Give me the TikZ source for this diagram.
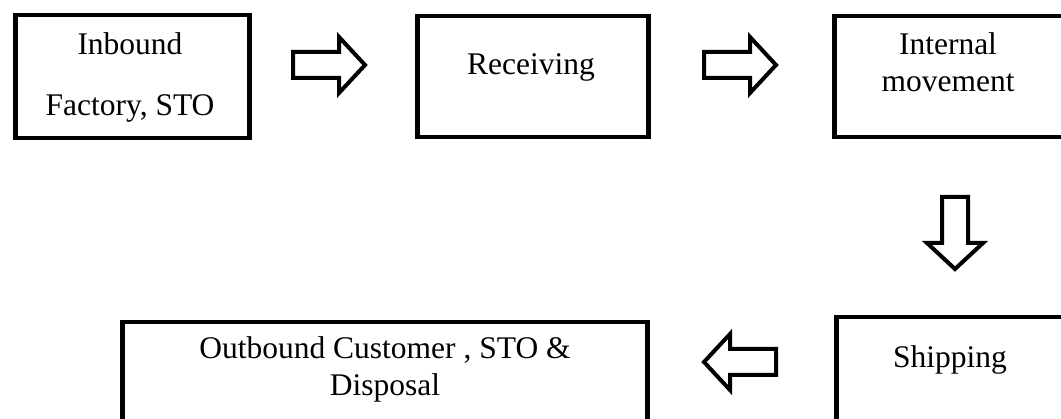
\documentclass[tikz,border=0pt]{standalone}
\usepackage{fontspec}
\setmainfont{Liberation Serif}
\begin{document}
\begin{tikzpicture}[x=1pt,y=-1pt,
  box/.style={draw=black, line width=4.5pt, rectangle, anchor=north west, inner sep=0pt},
  lbl/.style={anchor=base, inner sep=0pt, font=\fontsize{31.5}{37}\selectfont},
  blockarrow/.style={draw=black, line width=4pt, line join=miter, fill=white},
  rarrow/.pic={\draw[blockarrow] (0,-13) -- (46,-13) -- (46,-28) -- (72,0) -- (46,28) -- (46,13) -- (0,13) -- cycle;}
]
\useasboundingbox (0,0) rectangle (1061,419);
\clip (0,0) rectangle (1061,419);
% boxes
\node[box, minimum width=234pt, minimum height=123pt] (inbound) at (13,13) {};
\node[box, minimum width=231pt, minimum height=121pt] (receiving) at (415,14) {};
\node[box, minimum width=236pt, minimum height=121pt] (internal) at (832,14) {};
\node[box, minimum width=240pt, minimum height=140pt] (shipping) at (834,315) {};
\node[box, minimum width=525pt, minimum height=140pt] (outbound) at (120,320) {};
% labels
\node[lbl] (t1a) at (130,55) {Inbound};
\node[lbl] (t1b) at (130,116) {Factory, STO};
\node[lbl] (t2) at (531,75) {Receiving};
\node[lbl] (t3a) at (948,55) {Internal};
\node[lbl] (t3b) at (948,92) {movement};
\node[lbl] (t4) at (950,368) {Shipping};
\node[lbl] (t5a) at (385,359) {Outbound Customer , STO \&};
\node[lbl] (t5b) at (385,396) {Disposal};
% block arrows
\pic at (293,65) {rarrow};
\pic at (704,65) {rarrow};
\pic[rotate=-90] at (955,197) {rarrow};
\pic[rotate=180] at (776,362) {rarrow};
\end{tikzpicture}
\end{document}
